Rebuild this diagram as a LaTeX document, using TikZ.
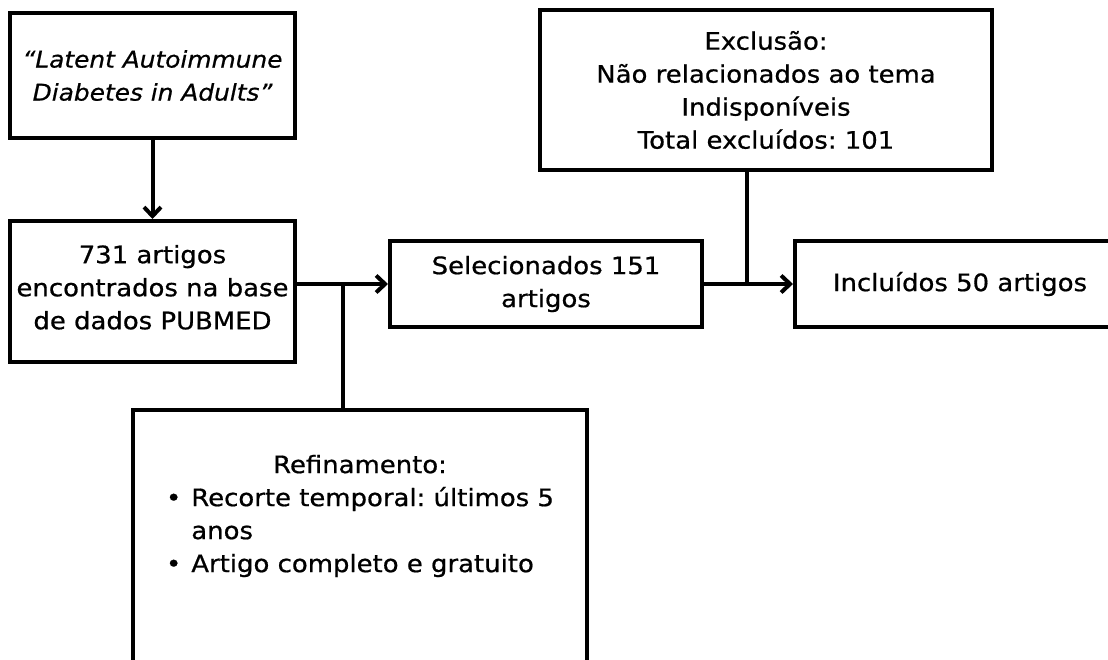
\documentclass[tikz,border=0pt]{standalone}
\usepackage{fontspec}
\setmainfont{DejaVu Sans}[FakeStretch=1.08, FakeBold=0.7]
\usetikzlibrary{arrows.meta,positioning}
\frenchspacing

\begin{document}
\begin{tikzpicture}[x=1pt, y=-1pt,
    caixa/.style={draw, line width=4pt, align=center, inner sep=0pt, font=\fontsize{24}{33}\selectfont},
    seta/.style={line width=4pt, -{Straight Barb[length=9pt, width=17pt]}},
    linha/.style={line width=4pt}]
    \clip (0,0) rectangle (1108,659);

    \node[caixa, minimum width=285pt, minimum height=125pt, font=\fontsize{23}{33}\selectfont\itshape] (busca) at (152.5,75.5) {“Latent Autoimmune\\ Diabetes in Adults”};
    \node[caixa, anchor=north, minimum width=285pt, inner ysep=24pt, text depth=9pt] (base) at (152.5,219) {731 artigos\\ encontrados na base\\ de dados PUBMED};
    \node[caixa, minimum width=312pt, minimum height=86pt] (sel) at (546,284) {Selecionados 151\\ artigos};
    \node[caixa, minimum width=330pt, minimum height=86pt] (incl) at (960,284) {Incluídos 50 artigos};
    \node[caixa, minimum width=452pt, minimum height=160pt] (excl) at (766,90) {Exclusão:\\ Não relacionados ao tema\\ Indisponíveis\\ Total excluídos: 101};
    \node[caixa, anchor=north, minimum width=454pt, inner ysep=40pt, text depth=260pt] (refin) at (360,408) {%
        \begin{tabular}{@{}c@{}}
        Refinamento:\\
        \begin{tabular}{@{}l@{\hspace{10pt}}l@{}}
        \textbullet & Recorte temporal: últimos 5\\
                    & anos\\
        \textbullet & Artigo completo e gratuito
        \end{tabular}
        \end{tabular}};

    \coordinate (juncao1) at (343,284);
    \coordinate (juncao2) at (747,284);

    \draw[seta] (busca) -- (base);
    \draw[seta] (base.east |- sel.west) -- (sel);
    \draw[linha] (juncao1) -- (juncao1 |- refin.north);
    \draw[seta] (sel) -- (incl);
    \draw[linha] (juncao2) -- (juncao2 |- excl.south);
\end{tikzpicture}
\end{document}
